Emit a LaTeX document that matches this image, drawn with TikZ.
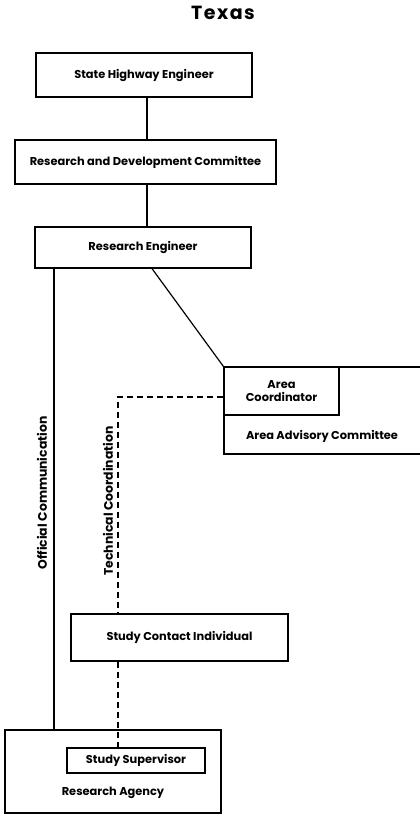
\documentclass[tikz,border=0pt]{standalone}
\usepackage{fontspec}
\setmainfont{Poppins}
\usepackage{tikz}
\usetikzlibrary{calc,positioning}

\newcommand{\boxtext}{\bfseries\fontsize{11.4}{13}\selectfont}

\tikzset{
  office/.style={draw,line width=1.2pt,minimum width=#1,inner sep=0pt,font=\boxtext},
  link/.style={line width=1.2pt},
  tlink/.style={line width=1.2pt,dash pattern=on 6pt off 4pt},
  sidelabel/.style={rotate=90,inner sep=0pt,font=\bfseries\fontsize{12.4}{14}\selectfont}
}

\begin{document}
\begin{tikzpicture}[x=1pt,y=-1pt]
  \useasboundingbox (0,0) rectangle (420,815);
  \clip (0,0) rectangle (420,815);

  \node[font=\bfseries\fontsize{19}{21}\selectfont\addfontfeatures{LetterSpace=8}] (title) at (223,13) {Texas};

  % chain of command
  \node[office=216pt,minimum height=44pt] (hwy) at (144,75) {State Highway Engineer};
  \node[office=261pt,minimum height=44pt] (rdc) at (145.5,162) {Research and Development Committee};
  \node[office=216pt,minimum height=41pt] (reng) at (143,247.5) {Research Engineer};

  % area office (runs off the right edge)
  \node[office=210pt,minimum height=87pt] (area) at (329,410.5) {};
  \node[office=115pt,minimum height=48pt,align=center] (acoord) at (281.5,391) {Area\\Coordinator};
  \node[inner sep=0pt,font=\boxtext] (aac) at (322,436) {Area Advisory Committee};

  % study side
  \node[office=217pt,minimum height=47pt] (sci) at (179.5,637.5) {Study Contact Individual};
  \node[office=216pt,minimum height=83pt] (agency) at (113,771.5) {};
  \node[office=138pt,minimum height=25pt] (ssup) at (136,760.5) {Study Supervisor};
  \node[inner sep=0pt,font=\boxtext] (ragt) at (113,793) {Research Agency};

  \coordinate (spine) at (147,0);
  \coordinate (offx) at (54,0);
  \coordinate (diag) at (152,0);
  \coordinate (techx) at (118,0);

  \draw[link] (hwy.south -| spine) -- (rdc.north -| spine);
  \draw[link] (rdc.south -| spine) -- (reng.north -| spine);
  \draw[link] (reng.south -| diag) -- (area.north west);
  \draw[link] (reng.south -| offx) -- (agency.north -| offx);
  \draw[tlink] ($(acoord.west)+(0,6)$) -| (sci.north -| techx);
  \draw[tlink] (sci.south -| techx) -- (ssup.north -| techx);

  \node[sidelabel] (offc) at (42,493) {Official Communication};
  \node[sidelabel] (techc) at (108,501) {Technical Coordination};
\end{tikzpicture}
\end{document}
